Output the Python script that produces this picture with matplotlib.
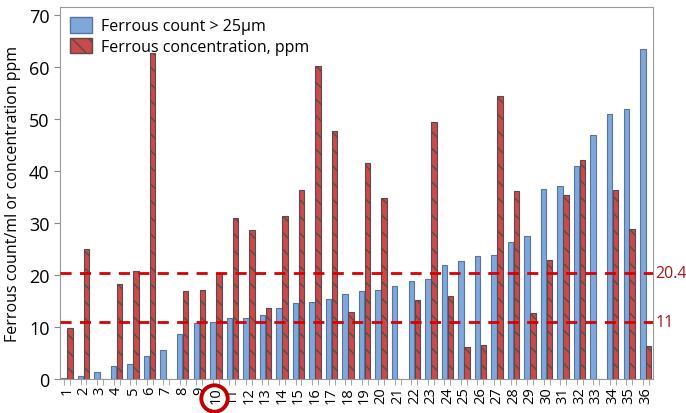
import numpy as np
import matplotlib
matplotlib.use('Agg')
import matplotlib.pyplot as plt
import matplotlib.transforms as mtransforms
from matplotlib.patches import Patch

samples = [str(i) for i in range(1, 37)]
ferrous_count = [0.2, 0.6, 1.3, 2.6, 2.8, 4.4, 5.6, 8.7, 10.8, 11.0, 11.7, 11.8,
                 12.4, 13.6, 14.7, 14.8, 15.4, 16.3, 16.9, 17.2, 17.9, 18.8, 19.3, 22.0,
                 22.6, 23.6, 23.9, 26.4, 27.5, 36.6, 37.1, 40.9, 46.8, 51.0, 51.8, 63.4]
ferrous_ppm = [9.9, 24.9, 0.0, 18.3, 20.8, 62.7, 0.0, 16.9, 17.2, 20.4, 31.0, 28.6,
               13.6, 31.3, 36.4, 60.2, 47.6, 12.8, 41.6, 34.8, 0.0, 15.1, 49.3, 15.9,
               6.1, 6.5, 54.3, 36.2, 12.7, 22.9, 35.4, 42.1, 0.0, 36.4, 28.8, 6.4]
limits = [20.4, 11]
circled = '10'

plt.rcParams['font.family'] = ['Open Sans', 'DejaVu Sans']
plt.rcParams['hatch.color'] = '#5a4a4a'
plt.rcParams['hatch.linewidth'] = 1.0

fig = plt.figure(figsize=(6.86, 4.14), dpi=100)
ax = fig.add_axes([0.0875, 0.082, 0.864, 0.899])

x = np.arange(len(samples))
w = 0.33
off = 0.18
ax.bar(x - off, ferrous_count, w, color='#7fa7d9', edgecolor='#5575a5', linewidth=0.8,
       label='Ferrous count > 25µm', zorder=2)
ax.bar(x + off, ferrous_ppm, w, color='#c94a4a', edgecolor='#5a4a4a', linewidth=0.8,
       hatch='\\\\', label='Ferrous concentration, ppm', zorder=2)

for v in limits:
    ax.axhline(v, color='#d80000', linestyle=(0, (4, 3)), linewidth=2, zorder=3)
    ax.text(1.005, v, '{:g}'.format(v), transform=ax.get_yaxis_transform(),
            color='#a01515', fontsize=11.5, va='center', ha='left')

ax.set_xlim(-0.42, len(samples) - 1 + 0.42)
ax.set_ylim(0, 71.5)
ax.set_yticks(range(0, 71, 10))
ax.tick_params(axis='y', labelsize=13, length=4, color='#888888')
ax.set_xticks(x)
ax.set_xticklabels(samples, rotation=90, fontsize=10.5)
ax.tick_params(axis='x', which='major', length=0, pad=5)
ax.set_xticks(np.concatenate([x - off, x + off]), minor=True)
ax.tick_params(axis='x', which='minor', length=4, color='#999999')
ax.set_ylabel('Ferrous count/ml or concentration ppm', fontsize=11.5, labelpad=6)

for s in ax.spines.values():
    s.set_color('#999999')

# red circle around the highlighted sample label
idx = samples.index(circled)
trans = mtransforms.blended_transform_factory(ax.transData, ax.transAxes)
ax.plot([idx - 0.1], [-0.052], marker='o', markersize=19, mfc='none', mec='#c00000',
        mew=2.8, transform=trans, clip_on=False, zorder=5)

handles = [Patch(facecolor='#7fa7d9', edgecolor='#5575a5'),
           Patch(facecolor='#c94a4a', edgecolor='#5a4a4a', hatch='\\\\')]
ax.legend(handles, ['Ferrous count > 25µm', 'Ferrous concentration, ppm'],
          loc='upper left', frameon=False, fontsize=11.5, handlelength=1.35,
          handleheight=1.1, handletextpad=0.55, borderaxespad=0.25, labelspacing=0.2)

fig.savefig('out.png', dpi=100)
